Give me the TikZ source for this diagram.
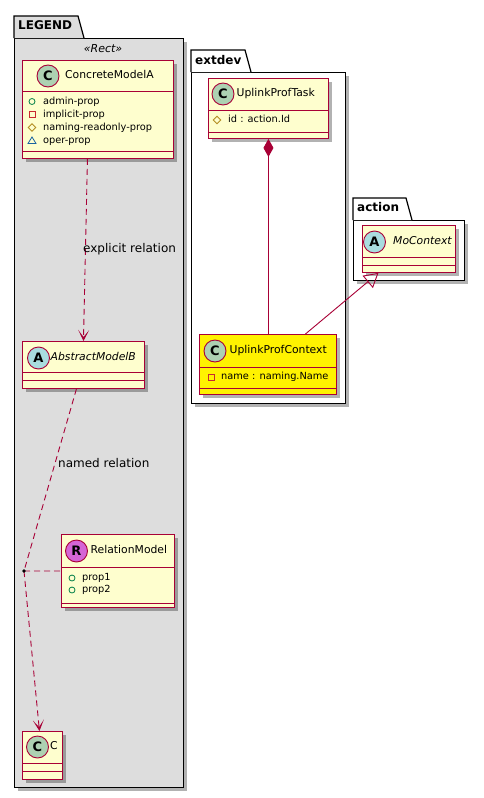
\documentclass[tikz,border=0pt]{standalone}
\usepackage{fontspec}
\setmainfont{DejaVu Sans}
\usetikzlibrary{arrows.meta,shadows,calc}
\definecolor{bord}{HTML}{A80036}
\definecolor{clsfill}{HTML}{FEFECE}
\definecolor{cC}{HTML}{ADD1B2}
\definecolor{cA}{HTML}{A9DCDF}
\definecolor{cR}{HTML}{D565D5}
\definecolor{legfill}{HTML}{DDDDDD}
\definecolor{pubc}{HTML}{038048}
\definecolor{privc}{HTML}{C82930}
\definecolor{protc}{HTML}{B38D22}
\definecolor{pkgc}{HTML}{1963A0}
\newcommand\icpub[2]{\draw[pubc, line width=0.8pt] (#1,#2) circle (3);}
\newcommand\icpriv[2]{\draw[privc, line width=0.8pt] (#1-3,#2-3) rectangle (#1+3,#2+3);}
\newcommand\icprot[2]{\draw[protc, line width=0.8pt] (#1-3.8,#2) -- (#1,#2-3.8) -- (#1+3.8,#2) -- (#1,#2+3.8) -- cycle;}
\newcommand\icpkgv[2]{\draw[pkgc, line width=0.8pt] (#1-4,#2+3) -- (#1,#2-3.5) -- (#1+4,#2+3) -- cycle;}
\begin{document}
\begin{tikzpicture}[x=1pt,y=-1pt,
  shd/.style={drop shadow={shadow xshift=3.5pt, shadow yshift=-3.5pt, opacity=0.3, fill=black}},
  cls/.style={draw=bord, fill=clsfill, line width=0.9pt, inner sep=0pt, anchor=north west, shd},
  pkgbody/.style={draw=black, line width=1.2pt, inner sep=0pt, anchor=north west, shd},
  pkgtab/.style={draw=black, line width=1.2pt},
  pkgtitle/.style={font=\fontsize{12}{14}\selectfont\bfseries, inner sep=0pt, anchor=mid west},
  hcirc/.style={circle, draw=bord, line width=0.9pt, minimum size=22pt, inner sep=0pt, font=\fontsize{13}{15}\selectfont\bfseries},
  cname/.style={font=\fontsize{10.8}{13}\selectfont, inner sep=0pt, anchor=mid west},
  attr/.style={font=\fontsize{9.8}{12}\selectfont, inner sep=0pt, anchor=mid west},
  lbl/.style={font=\fontsize{12}{14}\selectfont, inner sep=0pt, anchor=mid west},
  divl/.style={draw=bord, line width=0.9pt},
  rel/.style={draw=bord, line width=0.9pt},
  dsh/.style={dash pattern=on 6pt off 4pt},
  openarr/.style={-{Stealth[length=11pt,width=11pt,inset=7pt]}}
]
\useasboundingbox (0,0) rectangle (484,798);

% ---------- packages ----------
\node[pkgbody, fill=legfill, minimum width=169pt, minimum height=749pt] (legend) at (14,38) {};
\draw[pkgtab, fill=legfill] (14,38) -- (14,16) -- (78,16) -- (84,38);
\node[pkgtitle] (legendt) at (18,27) {LEGEND};
\node[font=\fontsize{11}{13}\selectfont\itshape, inner sep=0pt] (stereo) at (103,49) {«Rect»};

\node[pkgbody, fill=white, minimum width=154pt, minimum height=331pt] (extdev) at (191,72) {};
\draw[pkgtab, fill=white] (191,72) -- (191,50) -- (245,50) -- (251,72);
\node[pkgtitle] (extdevt) at (195,61.5) {extdev};

\node[pkgbody, fill=white, minimum width=111pt, minimum height=60pt] (action) at (353,220) {};
\draw[pkgtab, fill=white] (353,220) -- (353,198) -- (406,198) -- (412,220);
\node[pkgtitle] (actiont) at (357,209) {action};

% ---------- classes ----------
% ConcreteModelA
\node[cls, minimum width=151pt, minimum height=98pt] (cma) at (22,60) {};
\node[hcirc, fill=cC] (cmac) at (48,76) {C};
\node[cname] (cman) at (65,76) {ConcreteModelA};
\draw[divl] (22,91) -- (173,91);
\icpub{32}{101.5}\node[attr] (cma1) at (43,101.5) {admin-prop};
\icpriv{32}{114.5}\node[attr] (cma2) at (43,114.5) {implicit-prop};
\icprot{32}{127.5}\node[attr] (cma3) at (43,127.5) {naming-readonly-prop};
\icpkgv{32}{140.5}\node[attr] (cma4) at (43,140.5) {oper-prop};
\draw[divl] (22,151) -- (173,151);

% AbstractModelB
\node[cls, minimum width=122pt, minimum height=47pt] (amb) at (22,341) {};
\node[hcirc, fill=cA] (ambc) at (38.5,358) {A};
\node[cname, font=\fontsize{10.8}{13}\selectfont\itshape] (ambn) at (50.5,358) {AbstractModelB};
\draw[divl] (22,372) -- (144,372);
\draw[divl] (22,380) -- (144,380);

% RelationModel
\node[cls, minimum width=113pt, minimum height=73pt] (rm) at (61,534) {};
\node[hcirc, fill=cR] (rmc) at (76.5,551) {R};
\node[cname] (rmn) at (90.5,551) {RelationModel};
\draw[divl] (61,567) -- (174,567);
\icpub{72}{578}\node[attr] (rm1) at (82,578) {prop1};
\icpub{72}{590}\node[attr] (rm2) at (82,590) {prop2};
\draw[divl] (61,603) -- (174,603);

% C
\node[cls, minimum width=40pt, minimum height=48pt] (cc) at (22,731) {};
\node[hcirc, fill=cC] (ccc) at (37.5,747) {C};
\node[cname] (ccn) at (50,747) {C};
\draw[divl] (22,763) -- (62,763);
\draw[divl] (22,771) -- (62,771);

% UplinkProfTask
\node[cls, minimum width=120pt, minimum height=60pt] (upt) at (208,78) {};
\node[hcirc, fill=cC] (uptc) at (223,94) {C};
\node[cname] (uptn) at (236.5,94) {UplinkProfTask};
\draw[divl] (208,110) -- (328,110);
\icprot{217}{120}\node[attr] (upt1) at (228,120) {id : action.Id};
\draw[divl] (208,132) -- (328,132);

% UplinkProfContext
\node[cls, fill=yellow, minimum width=137pt, minimum height=60pt] (upc) at (199,334) {};
\node[hcirc, fill=cC] (upcc) at (215,351) {C};
\node[cname] (upcn) at (229.5,351) {UplinkProfContext};
\draw[divl] (199,367) -- (336,367);
\icpriv{211}{377}\node[attr] (upc1) at (221,377) {name : naming.Name};
\draw[divl] (199,388) -- (336,388);

% MoContext
\node[cls, minimum width=93pt, minimum height=47pt] (moc) at (362,225) {};
\node[hcirc, fill=cA] (mocc) at (374.5,242) {A};
\node[cname, font=\fontsize{10.8}{13}\selectfont\itshape] (mocn) at (393,242) {MoContext};
\draw[divl] (362,257) -- (455,257);
\draw[divl] (362,265) -- (455,265);

% ---------- relations ----------
\draw[rel, dsh, openarr] ([xshift=-10.5pt]cma.south) -- (amb.north);
\node[lbl] (lexp) at (83,250) {explicit relation};

\coordinate (jn) at (24,571);
\draw[rel, dsh] ([xshift=-7pt]amb.south) -- (jn);
\draw[rel, dsh] (jn) -- (rm.west);
\draw[rel, dsh, openarr] (jn) -- ([xshift=-3pt]cc.north);
\fill (jn) circle (1.8);
\node[lbl] (lnam) at (58,465) {named relation};

\draw[rel, {Diamond[length=18pt,width=10pt]}-] (upt.south) -- (upt.south |- upc.north);
\draw[rel, -{Triangle[open,length=14pt,width=16pt]}] ([xshift=37.5pt]upc.north) -- ([xshift=-30.5pt]moc.south);
\end{tikzpicture}
\end{document}
